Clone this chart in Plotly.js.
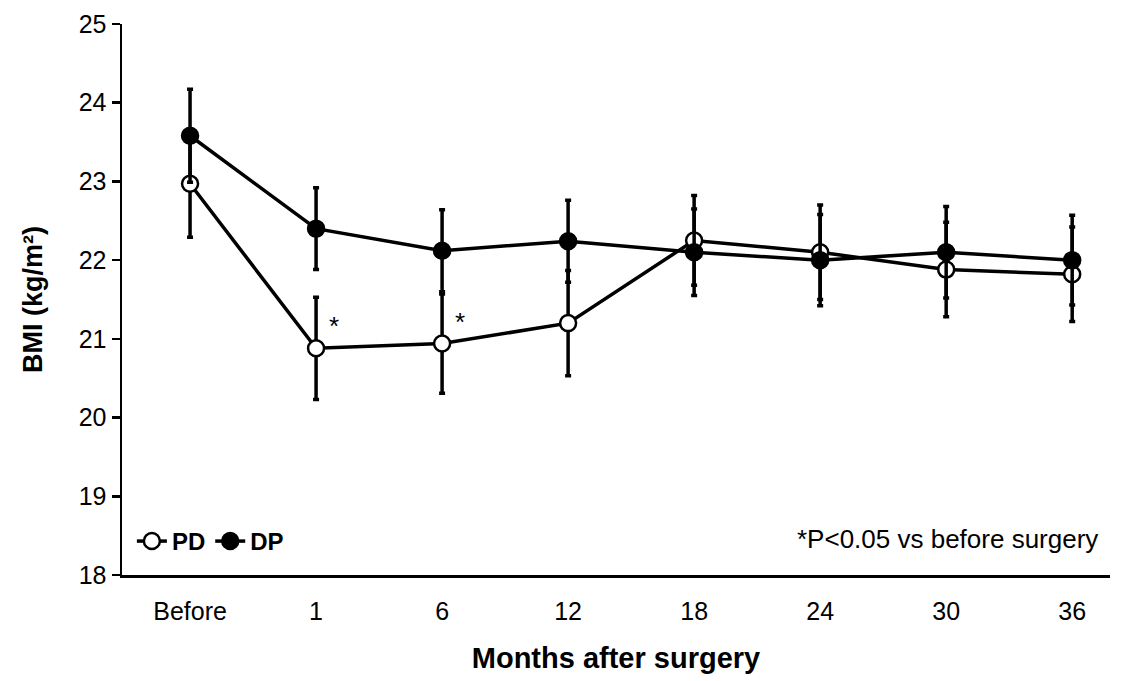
<!DOCTYPE html>
<html><head><meta charset="utf-8">
<script src="https://cdn.plot.ly/plotly-3.0.1.min.js"></script>
<style>body{margin:0;background:#fff}</style>
</head><body>
<div id="chart" style="width:1121px;height:681px"></div>
<script>
const months = ["Before", "1", "6", "12", "18", "24", "30", "36"];
const pdMean = [22.97, 20.88, 20.94, 21.20, 22.25, 22.10, 21.88, 21.82];
const pdErr = [0.68, 0.65, 0.63, 0.67, 0.57, 0.60, 0.60, 0.60];
const dpMean = [23.58, 22.40, 22.12, 22.24, 22.10, 22.00, 22.10, 22.00];
const dpErr = [0.59, 0.52, 0.52, 0.52, 0.55, 0.58, 0.58, 0.57];

const xi = months.map((m, i) => i);
const font = {family: "Liberation Sans, Arial", color: "#000"};

const mk = (name, y, e, fill) => ({
    name: name, x: xi, y: y, type: "scatter", mode: "lines+markers",
    line: {color: "#000", width: 3.5},
    marker: {color: fill, size: 16, line: {color: "#000", width: 2.5}},
    error_y: {type: "data", array: e, visible: true, color: "#000", thickness: 3.5, width: 3},
});

const layout = {
    width: 1121, height: 681,
    margin: {l: 122, r: 11, t: 24, b: 106},
    paper_bgcolor: "#fff", plot_bgcolor: "#fff",
    showlegend: true,
    legend: {x: 0.01, y: 0.02, xanchor: "left", yanchor: "bottom", orientation: "h",
        font: {family: font.family, size: 24, color: "#000", weight: "bold"},
        itemwidth: 30, traceorder: "normal", bgcolor: "rgba(0,0,0,0)"},
    xaxis: {
        range: [-0.54, 7.30], tickvals: xi, ticktext: months,
        showline: true, linecolor: "#000", linewidth: 2.5, showgrid: false, zeroline: false,
        ticks: "", ticklabelstandoff: 12, tickfont: {family: font.family, size: 25, color: "#000"},
        title: {text: "Months after surgery", font: {family: font.family, size: 29, color: "#000", weight: "bold"}, standoff: 24},
    },
    yaxis: {
        range: [18, 25], dtick: 1,
        showline: true, linecolor: "#000", linewidth: 2.5, showgrid: false, zeroline: false,
        ticks: "outside", ticklen: 8, tickwidth: 2.5, tickcolor: "#000",
        tickfont: {family: font.family, size: 25, color: "#000"},
        title: {text: "BMI (kg/m²)", font: {family: font.family, size: 27, color: "#000", weight: "bold"}, standoff: 28},
    },
    annotations: [
        {x: 1, y: 20.88, xref: "x", yref: "y", text: "*", showarrow: false, xshift: 18, yshift: 22, font: {family: font.family, size: 26, color: "#000"}},
        {x: 2, y: 20.94, xref: "x", yref: "y", text: "*", showarrow: false, xshift: 18, yshift: 22, font: {family: font.family, size: 26, color: "#000"}},
        {x: 0.99, y: 0.035, xref: "paper", yref: "paper", xanchor: "right", yanchor: "bottom", text: "*P<0.05 vs before surgery", showarrow: false, font: {family: font.family, size: 26, color: "#000"}},
    ],
};

Plotly.newPlot("chart", [mk("PD", pdMean, pdErr, "#fff"), mk("DP", dpMean, dpErr, "#000")], layout, {displayModeBar: false, staticPlot: true});
</script>
</body></html>
